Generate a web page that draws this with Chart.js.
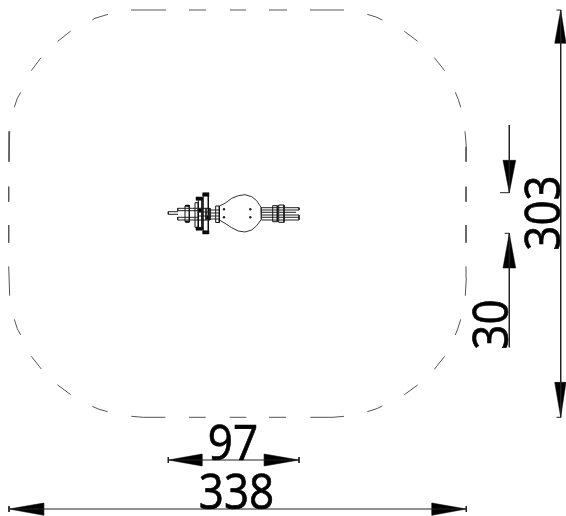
<!DOCTYPE html>
<html>
<head>
<meta charset="utf-8">
<title>Clearance zone</title>
<script src="https://cdn.jsdelivr.net/npm/chart.js@4"></script>
<style>
	html, body { margin: 0; padding: 0; background: #fff; }
	canvas { display: block; }
</style>
</head>
<body>
<canvas id="drawing" width="566" height="516"></canvas>
<script>
const topDashes = [
	[[131,10],[166,10]], [[189,10],[206,10]], [[230,10],[246,10]],
	[[269,10],[287,10]], [[310,10],[344,10]]
];
const zoneDashes = [
	[[108,14.3],[95,18.3],[92.3,20]],
	[[70.7,31],[57.7,41.3]],
	[[41,57.7],[31.3,70.7]],
	[[20.7,92.3],[17.3,98.3],[14.3,107.3]],
	[[9.7,131.3],[9,161.7]],
	[[8.7,186.7],[8.7,201.7]],
	[[8.7,225],[8.7,242.7]],
	[[8.7,266.3],[9.7,295.7]],
	[[14.3,319.3],[17.3,328.7],[20.7,335]],
	[[31.3,356.3],[41.3,369]],
	[[57.3,384.7],[70.7,394.7]],
	[[92.3,406.3],[98.3,409],[107.7,411.7]],
	[[131.3,416.3],[143.3,417.3],[165.3,417.3]],
	[[189,417.3],[205.7,417.3]],
	[[229.7,417.3],[246.3,417.3]],
	[[269,417.3],[286,417.3]],
	[[310.3,417.3],[333,417.3],[344,416.3]],
	[[367.3,411.7],[376,409],[382.3,406]],
	[[404.3,394.7],[417.7,385]],
	[[434.3,369.3],[444.7,356.3]],
	[[455.3,335],[458,328],[460.7,319.3]],
	[[465.3,295.7],[466.3,278],[466,266.3]],
	[[466,225],[466,242.7]],
	[[466,186.7],[466,201.7]],
	[[465,131.3],[466.3,146.7],[466,161.7]],
	[[455.3,92.3],[458.3,99.3],[460.7,107.3]],
	[[434.3,57.7],[444.7,70.7]],
	[[404.3,31.3],[417.7,41.3]],
	[[367.3,14.3],[376,17],[382.3,20]]
];
const dimensionLines = [
	[[556.5,10],[560.7,10],[560.7,417.3],[556.5,417.3]],
	[[509.3,125],[509.3,192.7],[500,192.7]],
	[[504.7,233.3],[509.3,233.3],[509.3,347.3]],
	[[168.3,457],[168.3,463]],
	[[168.3,460],[299,460]],
	[[299,457],[299,463]],
	[[9,506],[9,512]],
	[[9,509],[466.3,509]],
	[[466.3,506],[466.3,512]]
];
const arrowHeads = [
	[[560.7,10],[566,43.3],[554.7,43.3]],
	[[560.7,417.3],[566,382.3],[554.7,382.3]],
	[[509.3,192.7],[515.7,160.3],[503,160.3]],
	[[509.3,233.3],[515.7,268],[503,268]],
	[[168.3,460],[202,454],[202,466]],
	[[299,460],[264.3,454],[264.3,466]],
	[[9,509],[43.7,503],[43.7,515.3]],
	[[466.3,509],[432,503],[432,515.3]]
];
const dimensionValues = ['338', '97', '303', '30'];
const dimensionAnchors = [[236.5,509], [233,460], [559.5,213], [508,324.5]];
const dimensionAngles = [0, 0, -90, -90];

const bodyOutline = [
	[219.3,206],[225,203.3],[231.7,198.3],[238.3,195.7],[245,194.7],[251.7,196.7],[256.7,200.7],[261,207.3],[261.7,213.3],
	[261,219.3],[256.7,225.7],[251.7,230],[245,232],[238.3,231],[231.7,227.7],[225,223.3],[219.3,220]
];
const bodyHoles = [[224,209.3],[224,217.3],[250.3,209.3],[250.3,217.3]];
const rods = [
	[[261.7,207.7],[299,207.7]], [[261.7,210],[299,210]], [[261.7,212.3],[296,212.3]],
	[[261.7,215],[299,215]], [[261.7,217.3],[299,217.3]], [[261.7,220],[299,220]],
	[[299,207.7],[299,210]], [[299,215],[299,220]],
	[[168.3,211.7],[178,211.7]], [[168.3,214.3],[178,214.3]], [[168.3,211.7],[168.3,214.3]],
	[[177.7,208.3],[198,208.3]], [[177.7,210.7],[198,210.7]],
	[[177.7,217.3],[198,217.3]], [[177.7,220],[198,220]],
	[[177.7,208.3],[177.7,210.7]], [[177.7,217.3],[177.7,220]],
	[[210,210],[219,210]], [[210,213],[219,213]], [[210,216],[219,216]], [[210,219],[219,219]],
	[[198.3,212],[210,212]], [[198.3,216],[210,216]], [[202,208.3],[202,220]], [[206,208.3],[206,220]]
];
const outlinedParts = [
	[[272.7,205.7],[277.3,205.7],[277.3,221.7],[272.7,221.7],[272.7,205.7]],
	[[278.7,205],[284,205],[284,222.3],[278.7,222.3],[278.7,205]],
	[[185,205.7],[189.3,205.7],[189.3,221.7],[185,221.7],[185,205.7]],
	[[195,202.7],[198.3,202.7],[198.3,227.3],[195,227.3],[195,202.7]],
	[[198.3,198],[202,198],[202,229.5],[198.3,229.5],[198.3,198]],
	[[203.3,194],[208.3,194],[208.3,232.7],[203.3,232.7],[203.3,194]],
	[[198.3,208.3],[210,208.3],[210,220],[198.3,220],[198.3,208.3]],
	[[215.7,206],[219.3,206],[219.3,222.5],[215.7,222.5],[215.7,206]]
];
const darkCaps = [
	[[202.7,192.7],[208.7,192.7],[208.7,196.3],[202.7,196.3]],
	[[202.7,230.7],[208.7,230.7],[208.7,234],[202.7,234]],
	[[196,197],[202.3,197],[202.3,200.3],[196,200.3]],
	[[196,227.3],[202.3,227.3],[202.3,230.3],[196,230.3]],
	[[185.5,205],[189,205],[189,206.5],[185.5,206.5]],
	[[185.5,221],[189,221],[189,222.5],[185.5,222.5]],
	[[199,209],[202,209],[202,212],[199,212]],
	[[206,216],[209,216],[209,219],[206,219]]
];

function toPoints(list) {
	return list.map(p => ({x: p[0], y: p[1]}));
}

function strokes(lists, color, width) {
	return lists.map(list => ({
		data: toPoints(list),
		showLine: true,
		borderColor: color,
		borderWidth: width,
		pointRadius: 0,
		tension: 0
	}));
}

function solids(lists) {
	return lists.map(list => ({
		data: toPoints(list.concat([list[0]])),
		showLine: true,
		borderColor: '#000',
		borderWidth: 0.5,
		backgroundColor: '#000',
		fill: 'shape',
		pointRadius: 0,
		tension: 0
	}));
}

const datasets = [].concat(
	strokes(topDashes, '#8f8f8f', 1.5),
	strokes(zoneDashes, '#555', 1),
	strokes(dimensionLines, '#222', 1),
	solids(arrowHeads),
	strokes(rods, '#222', 1),
	strokes(outlinedParts, '#111', 1),
	strokes([bodyOutline], '#333', 1),
	solids(darkCaps),
	[{
		data: toPoints(bodyHoles),
		showLine: false,
		pointRadius: 1.2,
		pointBackgroundColor: '#222',
		pointBorderWidth: 0
	}]
);

// rotated / squeezed dimension numbers
const dimensionText = {
	id: 'dimensionText',
	afterDatasetsDraw(chart) {
		const ctx = chart.ctx;
		dimensionValues.forEach((value, i) => {
			ctx.save();
			ctx.translate(chart.scales.x.getPixelForValue(dimensionAnchors[i][0]), chart.scales.y.getPixelForValue(dimensionAnchors[i][1]));
			ctx.rotate(dimensionAngles[i] * Math.PI / 180);
			ctx.scale(0.88, 1);
			ctx.font = '50px "Open Sans"';
			ctx.fillStyle = '#000';
			ctx.strokeStyle = '#000';
			ctx.lineWidth = 0.7;
			ctx.textAlign = 'center';
			ctx.textBaseline = 'alphabetic';
			ctx.fillText(value, 0, 0);
			ctx.strokeText(value, 0, 0);
			ctx.restore();
		});
	}
};

const drawing = new Chart(document.getElementById('drawing'), {
	type: 'scatter',
	data: { datasets: datasets },
	plugins: [dimensionText],
	options: {
		responsive: false,
		animation: false,
		devicePixelRatio: 1,
		clip: false,
		layout: { padding: 0, autoPadding: false },
		plugins: {
			legend: { display: false },
			tooltip: { enabled: false }
		},
		scales: {
			x: { type: 'linear', min: 0, max: 566, display: false },
			y: { type: 'linear', min: 0, max: 516, reverse: true, display: false }
		}
	}
});
</script>
</body>
</html>
